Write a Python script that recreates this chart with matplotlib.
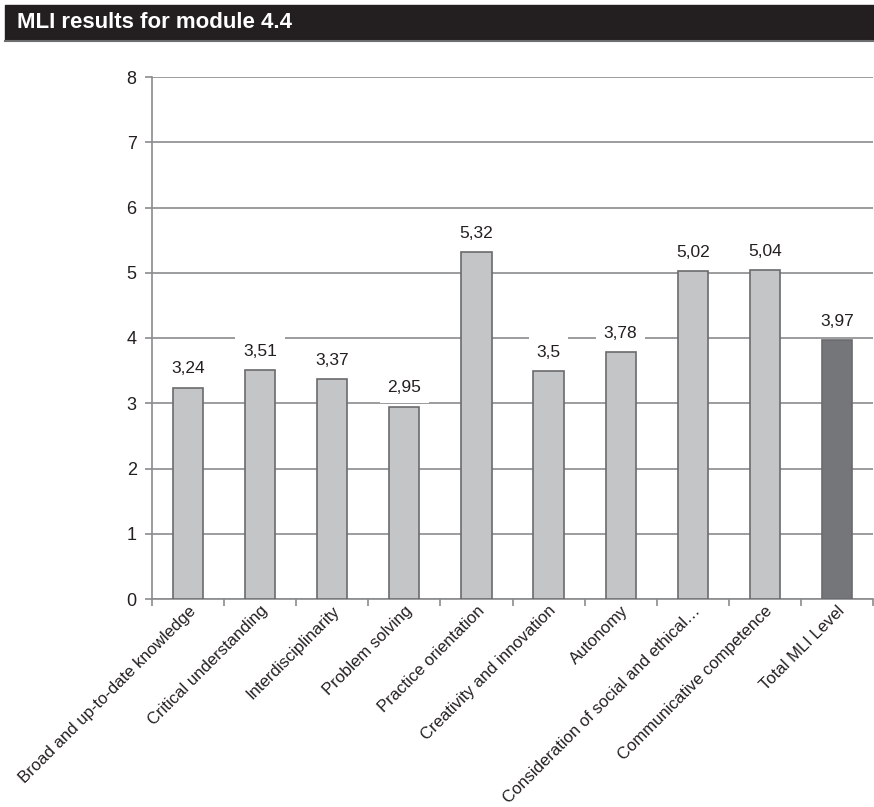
import matplotlib.pyplot as plt
from matplotlib.patches import Rectangle
from matplotlib.lines import Line2D

plt.rcParams['font.family'] = ['Liberation Sans', 'DejaVu Sans']

# data
categories = ['Broad and up-to-date knowledge', 'Critical understanding',
              'Interdisciplinarity', 'Problem solving', 'Practice orientation',
              'Creativity and innovation', 'Autonomy',
              'Consideration of social and ethical…',
              'Communicative competence', 'Total MLI Level']
values = [3.24, 3.51, 3.37, 2.95, 5.32, 3.5, 3.78, 5.02, 5.04, 3.97]
value_labels = ['3,24', '3,51', '3,37', '2,95', '5,32', '3,5', '3,78', '5,02', '5,04', '3,97']

bar_light = '#c4c5c7'
bar_dark = '#75767a'
edge = '#6a6b6d'
grid_col = '#8a8b8d'

fig = plt.figure(figsize=(8.74, 8.07), dpi=100)

# title bar across the top
fig.patches.append(Rectangle((5 / 874, 1 - 40 / 807), 1, 35 / 807,
                             transform=fig.transFigure, color='#231f20', zorder=0))
fig.lines.append(Line2D([5 / 874, 1], [1 - 41 / 807] * 2, transform=fig.transFigure,
                        color='#6d6e70', lw=1.5))
fig.text(17 / 874, 1 - 23 / 807, 'MLI results for module 4.4', color='white',
         fontsize=16, fontweight='bold', va='center', ha='left')

ax = fig.add_axes([152 / 874, 1 - 599 / 807, 721 / 874, 522 / 807])
x = list(range(len(categories)))
colors = [bar_light] * (len(values) - 1) + [bar_dark]
ax.bar(x, values, width=0.42, color=colors, edgecolor=edge, linewidth=1.2, zorder=3)

for xi, v, lab in zip(x, values, value_labels):
    ax.annotate(lab, (xi, v), xytext=(0, 8), textcoords='offset points',
                ha='center', va='bottom', fontsize=12.5, color='#231f20', zorder=4,
                bbox=dict(boxstyle='square,pad=0.45', fc='white', ec='none'))

ax.set_xlim(-0.5, len(categories) - 0.5)
ax.set_ylim(0, 8)
ax.set_yticks(range(0, 9))
ax.yaxis.grid(True, color=grid_col, lw=1.2, zorder=0)
ax.set_axisbelow(True)

ax.set_xticks([i - 0.5 for i in range(len(categories) + 1)])
ax.set_xticklabels([])
ax.set_xticks(x, minor=True)
ax.set_xticklabels(categories, minor=True, rotation=45, ha='right',
                   rotation_mode='anchor', fontsize=12, color='#231f20')
ax.tick_params(axis='x', which='minor', length=0, pad=3)
ax.tick_params(axis='x', which='major', length=5, color=grid_col, width=1.2)
ax.tick_params(axis='y', length=5, color=grid_col, width=1.2, labelsize=13,
               labelcolor='#231f20', pad=6)

for s in ['top', 'right']:
    ax.spines[s].set_visible(False)
for s in ['left', 'bottom']:
    ax.spines[s].set_color(grid_col)
    ax.spines[s].set_linewidth(1.2)

fig.savefig('out.png', dpi=100)
